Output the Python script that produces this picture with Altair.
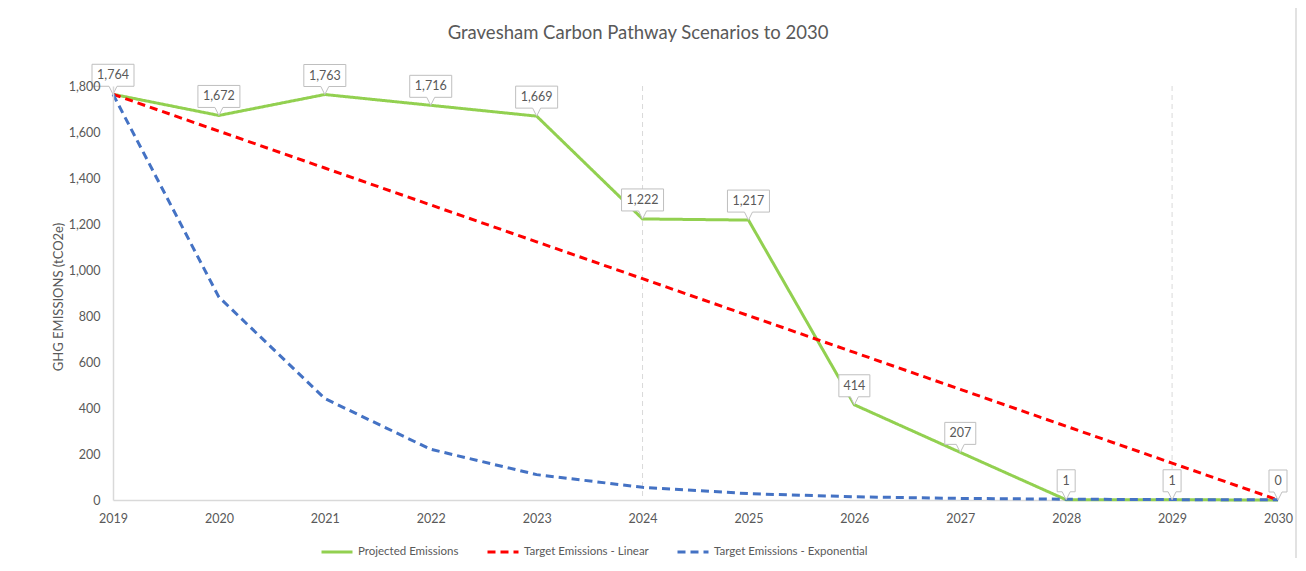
import altair as alt
import pandas as pd

years = list(range(2019, 2031))
projected = [1764, 1672, 1763, 1716, 1669, 1222, 1217, 414, 207, 1, 1, 0]
linear = [1764, 1603.6, 1443.3, 1282.9, 1122.5, 962.2, 801.8, 641.5, 481.1, 320.7, 160.4, 0]
exponential = [1764, 882, 441, 220.5, 110.3, 55.1, 27.6, 13.8, 6.9, 3.4, 1.7, 0.9]
label_text = ["1,764", "1,672", "1,763", "1,716", "1,669", "1,222", "1,217", "414", "207", "1", "1", "0"]
series_names = ["Projected Emissions", "Target Emissions - Linear", "Target Emissions - Exponential"]
series_colors = ["#92D050", "#FF0000", "#4472C4"]
grid_years = [2024, 2029]
y_ticks = list(range(0, 1801, 200))

rows = []
for name, vals in zip(series_names, [projected, linear, exponential]):
    for yr, v in zip(years, vals):
        rows.append({"year": yr, "value": v, "series": name})
df = pd.DataFrame(rows)

lab = pd.DataFrame({"year": years, "value": projected, "text": label_text})
lab["wclass"] = lab["text"].str.len().map({5: "w5", 3: "w3", 1: "w1"})


def box(h):
    return f"M{-h},-3H{h}V-0.8H0.4L0,0L-0.4,-0.8H{-h}Z"


W, H = 1165, 414
FONT = "Lato"
GREY = "#595959"

xs = alt.Scale(domain=[2019, 2030], nice=False)
ys = alt.Scale(domain=[0, 1800], nice=False)

x_enc = alt.X("year:Q", scale=xs,
              axis=alt.Axis(values=years, format="d", ticks=False, grid=False, title=None,
                            labelFlush=False, labelPadding=12, labelFontSize=12.5,
                            labelColor=GREY, labelFont=FONT,
                            domainColor="#d9d9d9", domainWidth=1.5))
y_enc = alt.Y("value:Q", scale=ys,
              axis=alt.Axis(values=y_ticks, format=",.0f", ticks=False, grid=False, title=None,
                            labelFlush=False, labelPadding=13, labelFontSize=12.5,
                            labelColor=GREY, labelFont=FONT,
                            domainColor="#d9d9d9", domainWidth=1.5, zindex=1))

frame = alt.Chart(pd.DataFrame({"a": [0]})).mark_rect(
    fill=None, stroke="#d9d9d9", strokeWidth=1.5
).encode(x=alt.value(-106), x2=alt.value(1183), y=alt.value(-80), y2=alt.value(540))

grid = alt.Chart(pd.DataFrame({"year": grid_years})).mark_rule(
    color="#d9d9d9", strokeDash=[5, 4], strokeWidth=1
).encode(x=alt.X("year:Q", scale=xs), y=alt.value(0), y2=alt.value(H))

lines = alt.Chart(df).mark_line(strokeWidth=3).encode(
    x=x_enc, y=y_enc,
    color=alt.Color("series:N", scale=alt.Scale(domain=series_names, range=series_colors),
                    sort=series_names, legend=alt.Legend(title=None)),
    strokeDash=alt.StrokeDash("series:N", scale=alt.Scale(domain=series_names,
                                                          range=[[1, 0], [8, 5], [8, 5]]),
                              sort=series_names, legend=alt.Legend(title=None)),
    order=alt.Order("year:Q"),
)

boxes = alt.Chart(lab).mark_point(
    filled=True, fill="white", stroke="#bfbfbf", strokeWidth=1, opacity=1, size=400
).encode(
    x=alt.X("year:Q", scale=xs), y=alt.Y("value:Q", scale=ys),
    shape=alt.Shape("wclass:N", scale=alt.Scale(domain=["w5", "w3", "w1"],
                                                range=[box(2.1), box(1.55), box(0.9)]),
                    legend=None),
)

texts = alt.Chart(lab).mark_text(
    dy=-19, fontSize=12.5, font=FONT, color=GREY, align="center", baseline="middle"
).encode(x=alt.X("year:Q", scale=xs), y=alt.Y("value:Q", scale=ys), text="text:N")

one = pd.DataFrame({"t": ["Gravesham Carbon Pathway Scenarios to 2030"]})
title = alt.Chart(one).mark_text(fontSize=18.5, font=FONT, color=GREY, align="center",
                                 baseline="middle").encode(
    x=alt.value(525), y=alt.value(-53), text="t:N")

ytitle = alt.Chart(pd.DataFrame({"t": ["GHG EMISSIONS (tCO2e)"]})).mark_text(
    fontSize=13, font=FONT, color=GREY, align="center", baseline="middle", angle=270
).encode(x=alt.value(-54), y=alt.value(211), text="t:N")

chart = alt.layer(frame, grid, lines, boxes, texts, title, ytitle).properties(
    width=W, height=H,
    autosize=alt.AutoSizeParams(type="none"),
    padding={"left": 105, "top": 78, "right": 20, "bottom": 58},
).configure_view(stroke=None).configure_legend(
    orient="none", legendX=207, legendY=449, direction="horizontal",
    symbolType="stroke", symbolSize=961, symbolStrokeWidth=3,
    labelFontSize=11.5, labelColor=GREY, labelFont=FONT, labelLimit=400,
    columnPadding=22, labelOffset=4, padding=0,
)

chart.save("out.html", embed_options={"renderer": "svg", "actions": False})
